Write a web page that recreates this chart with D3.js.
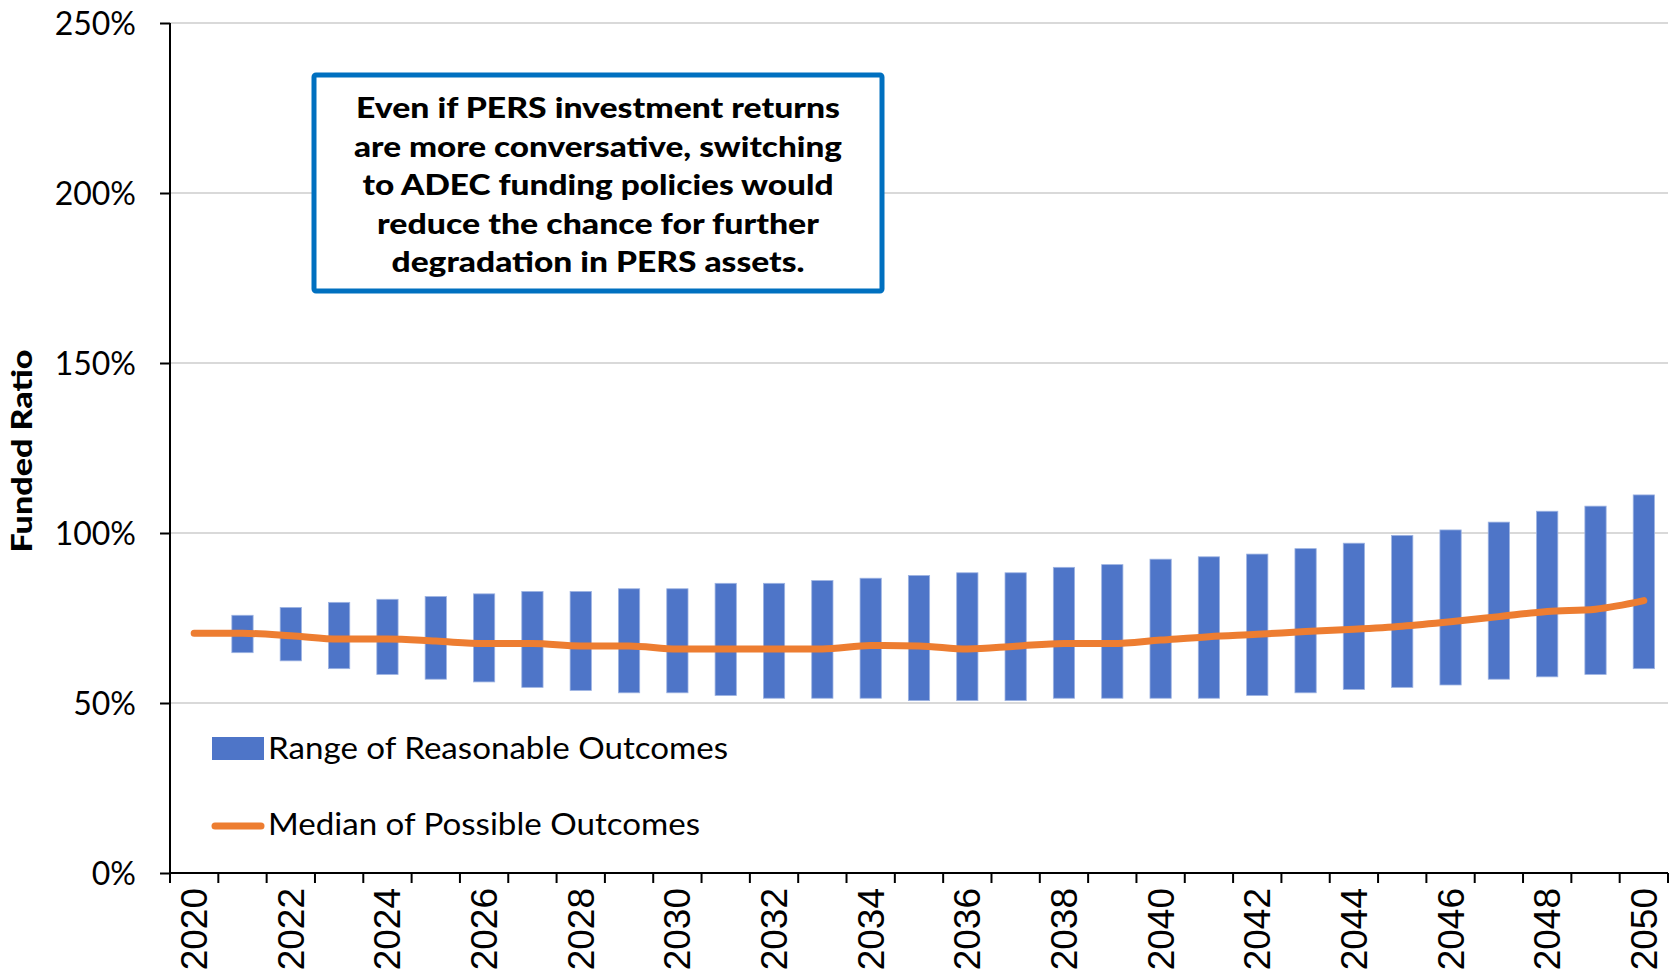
<!DOCTYPE html>
<html lang="en">
<head>
  <meta charset="UTF-8" />
  <title>PERS Funded Ratio</title>
  <script src="https://d3js.org/d3.v7.min.js"></script>
  <style>
    body {
      margin: 0;
      background: #fff;
    }

    svg {
      display: block;
    }

    .grid line {
      stroke: #d9d9d9;
      stroke-width: 2px;
    }

    .ylab {
      font-family: Lato, 'Open Sans', sans-serif;
      font-size: 32px;
      fill: #000;
    }

    .xlab {
      font-family: 'Liberation Sans', Arial, sans-serif;
      font-size: 37px;
      fill: #000;
    }

    .note {
      font-family: Lato, sans-serif;
      font-weight: 900;
      font-size: 29px;
      fill: #000;
    }

    .legend-text {
      font-family: Lato, sans-serif;
      font-size: 31px;
      fill: #000;
    }
  </style>
</head>
<body>

<svg width="1676" height="973"></svg>

<script>
  const years = [2020, 2021, 2022, 2023, 2024, 2025, 2026, 2027, 2028, 2029,
                 2030, 2031, 2032, 2033, 2034, 2035, 2036, 2037, 2038, 2039,
                 2040, 2041, 2042, 2043, 2044, 2045, 2046, 2047, 2048, 2049, 2050];

  // bottom and top of the "range of reasonable outcomes" bar (no bar for 2020)
  const rangeLow = [null, 64.8, 62.4, 60.1, 58.4, 57.0, 56.2, 54.6, 53.7, 53.0,
                    53.0, 52.2, 51.4, 51.4, 51.4, 50.7, 50.7, 50.7, 51.4, 51.4,
                    51.4, 51.4, 52.2, 53.0, 54.0, 54.6, 55.3, 57.0, 57.7, 58.4, 60.1];
  const rangeHigh = [null, 75.8, 78.1, 79.6, 80.5, 81.3, 82.1, 82.8, 82.8, 83.6,
                     83.6, 85.2, 85.2, 86.0, 86.7, 87.5, 88.3, 88.3, 89.9, 90.7,
                     92.3, 93.0, 93.8, 95.4, 97.0, 99.3, 100.9, 103.2, 106.4, 107.9, 111.2];

  const median = [70.5, 70.5, 69.8, 68.8, 68.8, 68.2, 67.5, 67.5, 66.8, 66.8,
                  65.9, 65.9, 65.9, 65.9, 66.9, 66.8, 65.9, 66.7, 67.5, 67.5,
                  68.5, 69.5, 70.2, 71.0, 71.7, 72.6, 73.9, 75.4, 76.9, 77.6, 80.1];

  const yTicks = [0, 50, 100, 150, 200, 250];
  const xLabelYears = years.filter(y => y % 2 === 0);

  const noteLines = [
    "Even if PERS investment returns",
    "are more conversative, switching",
    "to ADEC funding policies would",
    "reduce the chance for further",
    "degradation in PERS assets."
  ];

  const legendItems = ["Range of Reasonable Outcomes", "Median of Possible Outcomes"];

  const blue = "#4e75c8";
  const orange = "#ed7d31";

  const svg = d3.select("svg");

  const plotLeft = 170, plotRight = 1668, plotTop = 23, plotBottom = 873;

  const x = d3.scaleBand()
    .domain(years)
    .range([plotLeft, plotRight])
    .padding(0);

  const y = d3.scaleLinear()
    .domain([0, 250])
    .range([plotBottom, plotTop]);

  const cx = d => x(d) + x.bandwidth() / 2;

  // gridlines
  svg.append("g")
    .attr("class", "grid")
    .selectAll("line")
    .data(yTicks.filter(t => t > 0))
    .enter().append("line")
    .attr("x1", plotLeft)
    .attr("x2", plotRight)
    .attr("y1", d => y(d))
    .attr("y2", d => y(d));

  // y axis
  const yAxis = svg.append("g")
    .attr("transform", `translate(${plotLeft},0)`)
    .call(d3.axisLeft(y).tickValues(yTicks).tickSize(10).tickFormat(d => d + "%"));
  yAxis.attr("font-size", null).attr("font-family", null);
  yAxis.select(".domain").attr("stroke", "#000").attr("stroke-width", 2)
    .attr("d", `M0,${plotTop}V${plotBottom + 10}`);
  yAxis.selectAll(".tick line").attr("stroke", "#000").attr("stroke-width", 2);
  yAxis.selectAll(".tick text")
    .attr("class", "ylab")
    .attr("x", -34)
    .attr("dy", "0.36em");

  // x axis: ticks at the category boundaries
  const bounds = years.map(d => x(d)).concat([plotRight]);
  svg.append("line")
    .attr("x1", plotLeft)
    .attr("x2", plotRight)
    .attr("y1", plotBottom)
    .attr("y2", plotBottom)
    .attr("stroke", "#000")
    .attr("stroke-width", 2);
  svg.append("g")
    .selectAll("line")
    .data(bounds)
    .enter().append("line")
    .attr("x1", d => d)
    .attr("x2", d => d)
    .attr("y1", plotBottom)
    .attr("y2", plotBottom + 10)
    .attr("stroke", "#000")
    .attr("stroke-width", 2);

  svg.append("g")
    .selectAll("text")
    .data(xLabelYears)
    .enter().append("text")
    .attr("class", "xlab")
    .attr("text-anchor", "end")
    .attr("transform", d => `translate(${cx(d) + 13},${plotBottom + 15}) rotate(-90)`)
    .text(d => d);

  // range bars
  const barW = x.bandwidth() * 0.44;
  svg.append("g")
    .selectAll("rect")
    .data(years.map((yr, i) => ({ yr, lo: rangeLow[i], hi: rangeHigh[i] })).filter(d => d.lo != null))
    .enter().append("rect")
    .attr("x", d => cx(d.yr) - barW / 2)
    .attr("width", barW)
    .attr("y", d => y(d.hi))
    .attr("height", d => y(d.lo) - y(d.hi))
    .attr("fill", blue)
    .attr("stroke", "#9db3e2")
    .attr("stroke-width", 0.8);

  // median line
  const line = d3.line()
    .x((d, i) => cx(years[i]))
    .y(d => y(d))
    .curve(d3.curveMonotoneX);

  svg.append("path")
    .datum(median)
    .attr("d", line)
    .attr("fill", "none")
    .attr("stroke", orange)
    .attr("stroke-width", 7)
    .attr("stroke-linecap", "round")
    .attr("stroke-linejoin", "round");

  // annotation box
  svg.append("rect")
    .attr("x", 314)
    .attr("y", 75)
    .attr("width", 568)
    .attr("height", 216)
    .attr("rx", 2)
    .attr("fill", "#fff")
    .attr("stroke", "#0070c0")
    .attr("stroke-width", 5);

  const noteWidths = [484, 488, 471, 442, 413];
  svg.append("g")
    .selectAll("text")
    .data(noteLines)
    .enter().append("text")
    .attr("class", "note")
    .attr("x", 598)
    .attr("y", (d, i) => 108 + i * 38.5)
    .attr("dy", "0.36em")
    .attr("text-anchor", "middle")
    .attr("textLength", (d, i) => noteWidths[i])
    .attr("lengthAdjust", "spacingAndGlyphs")
    .text(d => d);

  // y axis title
  svg.append("text")
    .attr("transform", "translate(22,451) rotate(-90)")
    .attr("text-anchor", "middle")
    .attr("dy", "0.36em")
    .attr("font-family", "Lato, sans-serif")
    .attr("font-weight", 900)
    .attr("font-size", 29)
    .attr("textLength", 203)
    .attr("lengthAdjust", "spacingAndGlyphs")
    .text("Funded Ratio");

  // legend
  const legend = svg.append("g");
  legend.append("rect")
    .attr("x", 212)
    .attr("y", 737)
    .attr("width", 52)
    .attr("height", 23)
    .attr("fill", blue);
  legend.append("line")
    .attr("x1", 215)
    .attr("x2", 261)
    .attr("y1", 826)
    .attr("y2", 826)
    .attr("stroke", orange)
    .attr("stroke-width", 7)
    .attr("stroke-linecap", "round");

  const legendWidths = [460, 432];
  legend.selectAll("text")
    .data(legendItems)
    .enter().append("text")
    .attr("class", "legend-text")
    .attr("x", 268)
    .attr("y", (d, i) => 748 + i * 76)
    .attr("dy", "0.36em")
    .attr("textLength", (d, i) => legendWidths[i])
    .attr("lengthAdjust", "spacingAndGlyphs")
    .text(d => d);
</script>

</body>
</html>
